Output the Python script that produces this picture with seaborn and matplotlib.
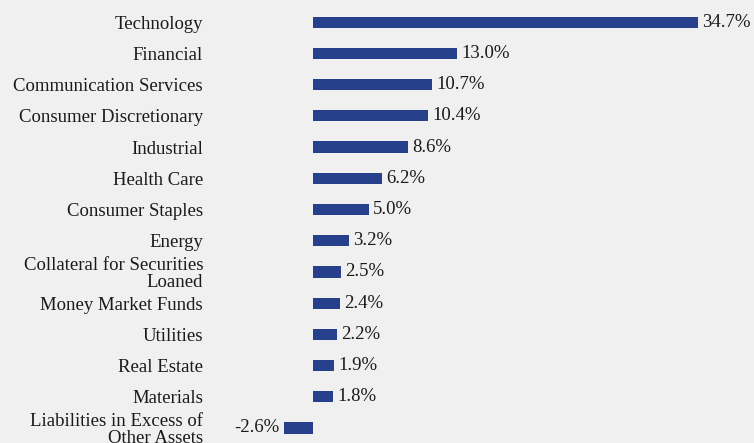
import matplotlib
matplotlib.use('Agg')
import matplotlib.pyplot as plt
import seaborn as sns
import pandas as pd

# Sector weights (% of net assets)
sectors = ['Technology', 'Financial', 'Communication Services', 'Consumer Discretionary',
           'Industrial', 'Health Care', 'Consumer Staples', 'Energy',
           'Collateral for Securities\nLoaned', 'Money Market Funds', 'Utilities',
           'Real Estate', 'Materials', 'Liabilities in Excess of\nOther Assets']
weights = [34.7, 13.0, 10.7, 10.4, 8.6, 6.2, 5.0, 3.2, 2.5, 2.4, 2.2, 1.9, 1.8, -2.6]

df = pd.DataFrame({'Sector': sectors, 'Weight': weights})

sns.set_style('white')
plt.rcParams['font.family'] = ['Liberation Serif', 'DejaVu Serif']

bg = '#f0f0f0'
fig = plt.figure(figsize=(7.54, 4.43), dpi=100)
fig.patch.set_facecolor(bg)
ax = fig.add_axes([210 / 754, -0.6 / 443, 535 / 754, 437 / 443])
ax.set_facecolor(bg)

sns.barplot(x='Weight', y='Sector', data=df, orient='h', color='#27408b',
            saturation=1, width=0.36, linewidth=0, ax=ax)

for c in ax.containers:
    ax.bar_label(c, fmt='%.1f%%', padding=3, fontsize=13.5, color='#1a1a1a')

ax.set_xlim(-9.28, 38.92)
ax.set_ylim(13.5, -0.5)
ax.set_xlabel('')
ax.set_ylabel('')
ax.set_xticks([])
ax.tick_params(axis='y', length=0, pad=5, labelsize=13.5, labelcolor='#1a1a1a')
for lbl in ax.get_yticklabels():
    lbl.set_linespacing(1.0)
for s in ax.spines.values():
    s.set_visible(False)

fig.savefig('out.png', dpi=100, facecolor=bg)
